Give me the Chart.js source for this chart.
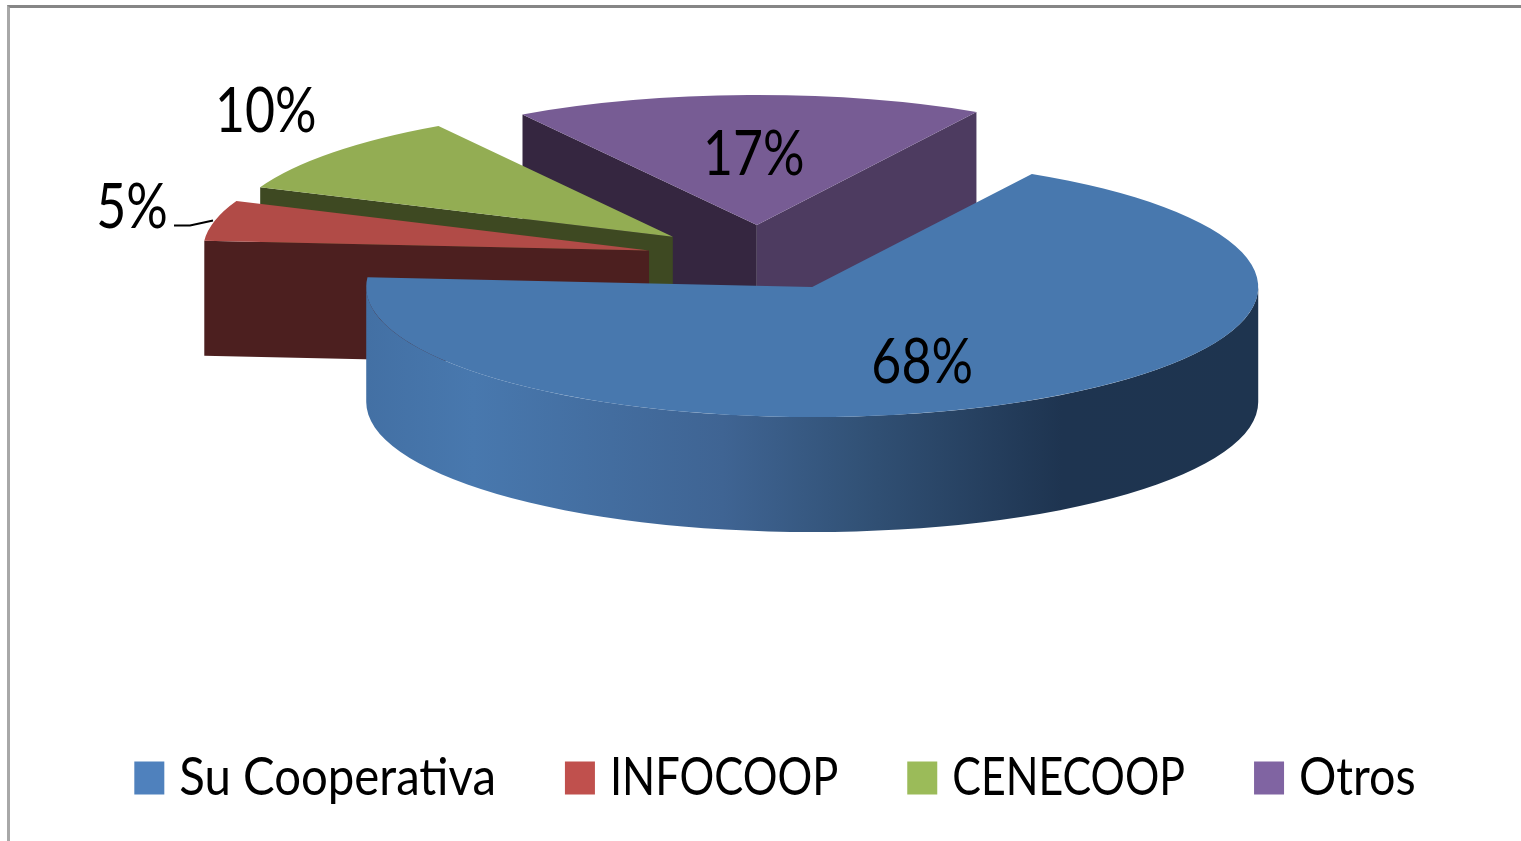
<!DOCTYPE html>
<html>
<head>
<meta charset="utf-8">
<style>
html,body{margin:0;padding:0;background:#fff;overflow:hidden}
#wrap{position:relative;width:1521px;height:841px;overflow:hidden}
#frame{position:absolute;left:7px;top:5px;right:-10px;bottom:-10px;border-top:3px solid #868686;border-left:3px solid #a8a8a8}
canvas{position:absolute;left:0;top:0}
</style>
<script src="https://cdn.jsdelivr.net/npm/chart.js@4/dist/chart.umd.min.js"></script>
</head>
<body>
<div id="wrap"><div id="frame"></div><canvas id="c" width="1521" height="841"></canvas></div>
<script>
const categories = ['Su Cooperativa', 'INFOCOOP', 'CENECOOP', 'Otros'];
const values = [68, 5, 10, 17];
const legendColors = ['#4f81bd', '#c0504d', '#9bbb59', '#8064a2'];
const topColors = ['#4878ae', '#b14b47', '#93ad53', '#775c94'];
const startFaceColors = ['#1e344f', '#4c1f1f', '#3e4922', '#352640'];
const endFaceColors = ['#1e344f', '#4c1f1f', '#3e4922', '#4d3b60'];
const legendSqueezes = [0.91, 0.835, 0.825, 0.897];

const FONT = "Lato, 'Liberation Sans', sans-serif";
const pie = {cx: 759, cy: 258, rx: 446, ry: 130, depth: 115, explode: 113};
const paintOrder = [3, 2, 1, 0];
const labelNudges = [[110, 76], [-517, -42], [-407, -124], [-3, -70]];
const labelSqueeze = 0.85;

// The reference uses a tall, narrow face: condense all canvas text horizontally.
const canvas = document.getElementById('c');
const raw = canvas.getContext('2d');
const squeezeOf = t => {
  const i = categories.indexOf(t);
  return i < 0 ? labelSqueeze : legendSqueezes[i];
};
const rawMeasure = raw.measureText.bind(raw), rawFill = raw.fillText.bind(raw);
raw.measureText = t => ({width: rawMeasure(t).width * squeezeOf(t)});
raw.fillText = (t, x, y) => {
  raw.save();
  raw.translate(x, y);
  raw.scale(squeezeOf(t), 1);
  rawFill(t, 0, 0);
  raw.restore();
};

const pie3d = {
  id: 'pie3d',
  beforeDatasetsDraw(chart) {
    const ctx = chart.ctx;
    const arcs = chart.getDatasetMeta(0).data;
    const ratio = pie.ry / pie.rx;
    const apexOf = a => {
      const half = (a.startAngle + a.endAngle) / 2;
      return {x: pie.cx + pie.explode * Math.cos(half), y: pie.cy + pie.explode * ratio * Math.sin(half)};
    };
    const place = (a, p, dy) => {
      const k = pie.rx / a.outerRadius, m = pie.ry / a.outerRadius;
      ctx.translate(p.x, p.y + dy);
      ctx.scale(k, m);
      ctx.translate(-a.x, -a.y);
    };
    const face = (p, ang, color) => {
      const q = {x: p.x + pie.rx * Math.cos(ang), y: p.y + pie.ry * Math.sin(ang)};
      ctx.fillStyle = color;
      ctx.beginPath();
      ctx.moveTo(p.x, p.y);
      ctx.lineTo(q.x, q.y);
      ctx.lineTo(q.x, q.y + pie.depth);
      ctx.lineTo(p.x, p.y + pie.depth);
      ctx.closePath();
      ctx.fill();
    };
    paintOrder.forEach(i => {
      const a = arcs[i], p = apexOf(a);
      if (Math.cos(a.startAngle) < 0) face(p, a.startAngle, startFaceColors[i]);
      if (Math.cos(a.endAngle) > 0) face(p, a.endAngle, endFaceColors[i]);
      const from = Math.max(a.startAngle, 0), to = Math.min(a.endAngle, Math.PI);
      if (to > from) {
        const g = ctx.createLinearGradient(p.x - pie.rx, 0, p.x + pie.rx, 0);
        g.addColorStop(0, '#4370a4');
        g.addColorStop(0.12, '#4878ae');
        g.addColorStop(0.4, '#3f6493');
        g.addColorStop(0.55, '#325277');
        g.addColorStop(0.78, '#1e3450');
        g.addColorStop(1, '#1e344f');
        ctx.beginPath();
        ctx.save(); place(a, p, 0);
        ctx.arc(a.x, a.y, a.outerRadius, from, to, false);
        ctx.restore();
        ctx.save(); place(a, p, pie.depth);
        ctx.arc(a.x, a.y, a.outerRadius, to, from, true);
        ctx.restore();
        ctx.closePath();
        ctx.fillStyle = g;
        ctx.fill();
      }
      ctx.save();
      place(a, p, 0);
      a.draw(ctx);
      ctx.restore();
    });
    // data labels
    ctx.save();
    ctx.fillStyle = '#000';
    ctx.font = '61px ' + FONT;
    ctx.textAlign = 'center';
    ctx.textBaseline = 'middle';
    arcs.forEach((a, i) => {
      const p = apexOf(a);
      ctx.fillText(values[i] + '%', p.x + labelNudges[i][0], p.y + labelNudges[i][1]);
    });
    // leader line of the smallest slice
    const r = apexOf(arcs[1]);
    ctx.strokeStyle = '#000';
    ctx.lineWidth = 2;
    ctx.beginPath();
    ctx.moveTo(r.x - 475, r.y - 25);
    ctx.lineTo(r.x - 459, r.y - 25);
    ctx.lineTo(r.x - 436, r.y - 30);
    ctx.stroke();
    ctx.restore();
    return false;
  }
};

new Chart(canvas, {
  type: 'pie',
  data: {
    labels: categories,
    datasets: [{data: values, backgroundColor: topColors, borderWidth: 0, hoverOffset: 0}]
  },
  plugins: [pie3d],
  options: {
    responsive: false,
    animation: false,
    rotation: 29.5,
    layout: {padding: {left: 40, bottom: 27}},
    plugins: {
      tooltip: {enabled: false},
      legend: {
        position: 'bottom',
        labels: {
          color: '#000',
          boxWidth: 8,
          boxHeight: 11,
          padding: 80,
          font: {family: FONT, size: 52},
          generateLabels(chart) {
            return Chart.overrides.pie.plugins.legend.labels.generateLabels(chart).map((it, i) => ({
              ...it, fillStyle: legendColors[i], strokeStyle: legendColors[i], lineWidth: 22, lineJoin: 'miter'
            }));
          }
        }
      }
    }
  }
});
</script>
</body>
</html>
